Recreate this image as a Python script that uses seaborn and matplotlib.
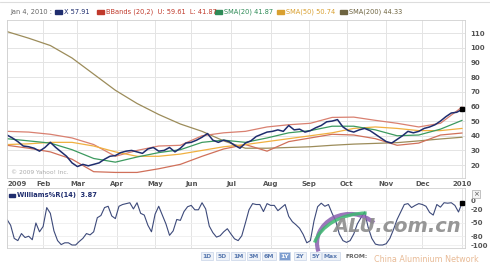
import numpy as np
import pandas as pd
import matplotlib
matplotlib.use("Agg")
import matplotlib.pyplot as plt
import seaborn as sns
from matplotlib.patches import Rectangle, Arc

# ---------------- data ----------------
month_ticks = [0, 20, 39, 61, 82, 102, 124, 146, 167, 188, 210, 230, 252]
month_labels = ['2009', 'Feb', 'Mar', 'Apr', 'May', 'Jun', 'Jul', 'Aug', 'Sep',
                'Oct', 'Nov', 'Dec', '2010']

# price, every 3 trading days
price = [40.5, 38.5, 36, 33, 32.5, 31.5, 29.5, 32, 35.5, 32, 29, 26, 21.5, 19,
         20.5, 19.5, 20.5, 21.5, 24, 26, 26.5, 28.5, 29.5, 30, 29, 28, 31, 32,
         29.5, 30, 32, 29, 31.5, 35, 35.5, 37, 39, 41.5, 37, 35.5, 37, 36, 33.5,
         31.5, 35, 36.5, 39.5, 41, 42.5, 43, 44, 43, 47, 44, 44.5, 42.5, 43.5,
         45.5, 47, 49.5, 50, 51, 46, 43.5, 42.5, 44, 45, 43.5, 41, 38.5, 36, 35,
         37.5, 40, 43, 42, 43, 45, 46, 47.5, 50, 53, 55.5, 56, 57.91]

# indicators, every 12 trading days
sma20 = [38, 36.5, 35, 30.5, 24.5, 22, 25.5, 28.5, 30.5, 35.5, 37, 35.5, 38.5,
         42, 43.5, 46.5, 46.5, 44, 40, 40.5, 44.5, 50.5]
sma50 = [34, 34.5, 35.5, 35.5, 33, 29, 26, 26, 27.5, 30, 32.5, 34, 36, 38,
         40, 42, 45, 46, 45, 43.5, 43.5, 45]
sma200 = [111, 106.5, 101.5, 93, 82, 71, 62, 54.5, 48, 43, 36.5, 31.5, 31.5,
          32, 32.5, 33.5, 34.3, 34.8, 35.3, 36.5, 37.8, 39]
bb_upper = [43, 42.5, 41, 38.5, 34, 26, 30, 33, 33.5, 40, 42, 43, 46, 47.5,
            48.5, 52.5, 52.7, 50.5, 48.5, 46, 48.5, 59.61]
bb_lower = [33.5, 31.5, 29, 24, 15.5, 15, 15, 17.5, 20.5, 26, 31, 34, 29.5, 36,
            38.5, 41, 40.5, 38, 33.5, 35, 40.5, 41.87]

# Williams %R(14), every 2 trading days
willr = [-42, -55, -85, -90, -74, -83, -80, -88, -50, -70, -58, -15, -28, -68,
         -90, -99, -95, -95, -100, -100, -92, -85, -74, -77, -70, -38, -33, -15,
         -12, -34, -40, -12, -8, -6, -4, -18, -4, -28, -32, -55, -70, -30, -12,
         -32, -52, -78, -68, -42, -44, -24, -13, -10, -20, -20, -4, -18, -57,
         -72, -82, -79, -70, -63, -75, -86, -90, -79, -50, -20, -6, -8, -8, -24,
         -6, -10, -10, -22, -15, -8, -35, -47, -54, -62, -76, -95, -90, -45, -13,
         -5, -12, -8, -28, -45, -75, -90, -94, -90, -75, -52, -38, -25, -60, -85,
         -98, -100, -100, -97, -85, -65, -42, -25, -8, -6, -15, -10, -6, -8, -12,
         -26, -32, -8, -14, -4, -5, -4, -10, -25, -3.87]

main_yticks = [20, 30, 40, 50, 60, 70, 80, 90, 100, 110]
wr_yticks = [0, -20, -50, -80, -100]
wr_ylabels = ['0', '-20', '-50', '-80', '-100']

legend_items = [('X 57.91', '#1f2d6e'),
                ('BBands (20,2)  U: 59.61  L: 41.87', '#c0392b'),
                ('SMA(20) 41.87', '#2e8b57'),
                ('SMA(50) 50.74', '#d9a030'),
                ('SMA(200) 44.33', '#6e6440')]
buttons = ['1D', '5D', '1M', '3M', '6M', '1Y', '2Y', '5Y', 'Max']

# ---------------- frames ----------------
df_price = pd.DataFrame({'t': np.arange(len(price)) * 3, 'v': price})
t12 = np.arange(len(sma20)) * 12
df_ind = pd.DataFrame({'t': t12, 'sma20': sma20, 'sma50': sma50,
                       'sma200': sma200, 'up': bb_upper, 'lo': bb_lower})
df_wr = pd.DataFrame({'t': np.arange(len(willr)) * 2, 'v': willr})

sns.set_theme(style="white")
plt.rcParams['font.family'] = ['DejaVu Sans']

W, H = 490, 267
fig = plt.figure(figsize=(W / 100, H / 100), dpi=100)
fig.patch.set_facecolor('white')

def fx(px):
    return px / W

def fy(py):
    return 1 - py / H

grid_c = '#e4e4e4'
txt_c = '#555555'

# ---------------- main panel ----------------
ax = fig.add_axes([fx(7), fy(178), fx(465 - 7), (178 - 20) / H])
ax.set_facecolor('white')
for t in month_ticks:
    ax.axvline(t, color=grid_c, lw=0.7, zorder=0)
for v in main_yticks:
    ax.axhline(v, color=grid_c, lw=0.7, zorder=0)

sns.lineplot(data=df_ind, x='t', y='sma200', ax=ax, color='#9c8c5a', lw=0.9)
sns.lineplot(data=df_ind, x='t', y='up', ax=ax, color='#d98070', lw=0.9)
sns.lineplot(data=df_ind, x='t', y='lo', ax=ax, color='#d0705a', lw=0.9)
sns.lineplot(data=df_ind, x='t', y='sma50', ax=ax, color='#f0b040', lw=0.9)
sns.lineplot(data=df_ind, x='t', y='sma20', ax=ax, color='#3c9a5f', lw=0.9)
sns.lineplot(data=df_price, x='t', y='v', ax=ax, color='#1f2d6e', lw=1.1)
ax.plot(df_price['t'].iloc[-1], df_price['v'].iloc[-1], marker='s', ms=2.5,
        color='black', zorder=5)

ax.set_xlim(0, 253.6)
ax.set_ylim(11.2, 118.9)
ax.yaxis.tick_right()
ax.set_yticks(main_yticks)
ax.set_yticklabels([str(v) for v in main_yticks])
ax.set_xticks(month_ticks)
ax.set_xticklabels(month_labels)
ax.tick_params(axis='both', length=0, labelsize=5, colors=txt_c)
ax.tick_params(axis='y', pad=4)
ax.tick_params(axis='x', pad=2)
for lab in ax.get_xticklabels():
    lab.set_fontweight('bold')
ax.get_xticklabels()[0].set_ha('left')
for lab in ax.get_yticklabels():
    lab.set_fontweight('bold')
ax.set_xlabel('')
ax.set_ylabel('')
for s in ax.spines.values():
    s.set_color('#d0d0d0')
    s.set_linewidth(0.6)
ax.text(0.008, 0.02, '© 2009 Yahoo! Inc.', transform=ax.transAxes,
        fontsize=4.3, color='#aaaaaa', ha='left', va='bottom')

# ---------------- lower panel ----------------
ax2 = fig.add_axes([fx(7), fy(248), fx(465 - 7), 60 / H])
for t in month_ticks:
    ax2.axvline(t, color=grid_c, lw=0.7, zorder=0)
for v in wr_yticks:
    ax2.axhline(v, color='#eeeeee', lw=0.6, zorder=0)
sns.lineplot(data=df_wr, x='t', y='v', ax=ax2, color='#3d4a7a', lw=0.8)
ax2.plot(df_wr['t'].iloc[-1], df_wr['v'].iloc[-1], marker='s', ms=2.2,
         color='black', zorder=5)
ax2.set_xlim(0, 253.6)
ax2.set_ylim(-106.8, 29.5)
ax2.yaxis.tick_right()
ax2.set_yticks(wr_yticks)
ax2.set_yticklabels(wr_ylabels)
ax2.set_xticks([])
ax2.tick_params(axis='y', length=0, labelsize=5, colors=txt_c, pad=4)
for lab in ax2.get_yticklabels():
    lab.set_fontweight('bold')
ax2.set_xlabel('')
ax2.set_ylabel('')
for s in ax2.spines.values():
    s.set_color('#d0d0d0')
    s.set_linewidth(0.6)

# Williams legend
fig.patches.append(Rectangle((fx(9), fy(197)), fx(6), 3 / H,
                             transform=fig.transFigure, color='#1f2d6e'))
fig.text(fx(17), fy(195.5), 'Williams%R(14)  3.87', fontsize=4.8,
         color='#1f2d6e', fontweight='bold', va='center', ha='left')

# ---------------- top legend ----------------
fig.text(fx(10), fy(12), 'Jan 4, 2010 :', fontsize=4.8, color='#666666',
         va='center', ha='left')
swatch_x = [55, 97, 215, 277, 340]
for (label, col), sx in zip(legend_items, swatch_x):
    fig.patches.append(Rectangle((fx(sx), fy(13.5)), fx(7), 3 / H,
                                 transform=fig.transFigure, color=col))
    fig.text(fx(sx + 9), fy(12), label, fontsize=4.8, color=col,
             va='center', ha='left')
fig.lines.append(plt.Line2D([0, 1], [fy(2), fy(2)], transform=fig.transFigure,
                            color='#dddddd', lw=0.8))

# ---------------- range buttons ----------------
bx = 207
for b in buttons:
    hl = (b == '1Y')
    fig.text(fx(bx), fy(256), b, fontsize=4.4, fontweight='bold',
             color='white' if hl else '#5a7ab0', ha='center', va='center',
             bbox=dict(boxstyle='square,pad=0.25',
                       fc='#7f9fd0' if hl else '#eef2f8',
                       ec='#c8d4e8', lw=0.5))
    bx += 15.5
fig.text(fx(345), fy(256), 'FROM:', fontsize=4.4, color='#666666',
         ha='left', va='center', fontweight='bold')

# close box of lower panel
fig.text(fx(476), fy(194), '×', fontsize=5, color='#555555', ha='center',
         va='center', bbox=dict(boxstyle='square,pad=0.15', fc='#f4f4f4',
                                ec='#aaaaaa', lw=0.5))

# ---------------- watermark ----------------
ax_wm = fig.add_axes([0, 0, 1, 1], facecolor='none')
ax_wm.set_xlim(0, W)
ax_wm.set_ylim(H, 0)
ax_wm.axis('off')
ax_wm.add_patch(Arc((350, 243), 66, 58, theta1=165, theta2=320,
                    color='#8a5fb0', lw=3.0, alpha=0.85))
ax_wm.add_patch(Arc((368, 252), 110, 78, theta1=190, theta2=268,
                    color='#3cb870', lw=2.4, alpha=0.85))
ax_wm.text(397, 226, 'ALU.com.cn', fontsize=14, fontstyle='italic',
           fontweight='bold', color='#8c8c8c', alpha=0.9, ha='center',
           va='center')
ax_wm.text(426, 259, 'China Aluminium Network', fontsize=5.8,
           color='#e6b38a', alpha=0.9, ha='center', va='center')

fig.savefig('out.png', dpi=100, facecolor='white')
